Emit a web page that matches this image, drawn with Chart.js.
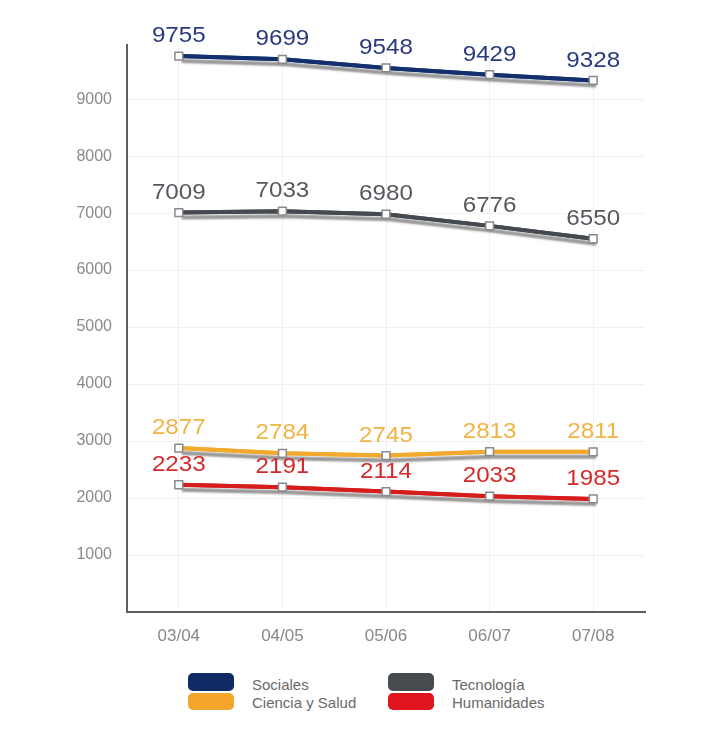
<!DOCTYPE html>
<html>
<head>
<meta charset="utf-8">
<script src="https://cdn.jsdelivr.net/npm/chart.js@4/dist/chart.umd.min.js"></script>
<style>
  body { margin: 0; background: #fff; font-family: "Liberation Sans", Arial, sans-serif; }
  #wrap { position: relative; width: 704px; height: 735px; }
  #myChart { position: absolute; left: 0; top: 0; }
  .lg { position: absolute; font-size: 15px; color: #6a6a6a; line-height: 18px; }
  .box { position: absolute; width: 46px; border-radius: 5px; }
</style>
</head>
<body>
<div id="wrap">
  <canvas id="myChart" width="704" height="660"></canvas>
  <div class="box" style="left:188px; top:673px; height:18px; background:#0f2b66;"></div>
  <div class="box" style="left:188px; top:693px; height:17px; background:#f4a62a;"></div>
  <div class="lg" style="left:252px; top:676px;">Sociales</div>
  <div class="lg" style="left:252px; top:694px;">Ciencia y Salud</div>
  <div class="box" style="left:388px; top:673px; height:18px; background:#464b50;"></div>
  <div class="box" style="left:388px; top:693px; height:17px; background:#e0151e;"></div>
  <div class="lg" style="left:452px; top:676px;">Tecnología</div>
  <div class="lg" style="left:452px; top:694px;">Humanidades</div>
</div>
<script>
// Course years
const years = ['03/04', '04/05', '05/06', '06/07', '07/08'];

// Students per branch
const sociales = [9755, 9699, 9548, 9429, 9328];
const tecnologia = [7009, 7033, 6980, 6776, 6550];
const ciencia = [2877, 2784, 2745, 2813, 2811];
const humanidades = [2233, 2191, 2114, 2033, 1985];

// y axis labels
const yTicks = [1000, 2000, 3000, 4000, 5000, 6000, 7000, 8000, 9000];

const ctx = document.getElementById('myChart').getContext('2d');

function series(label, data, color, labelColor) {
    return {
        label: label,
        data: data,
        borderColor: color,
        labelColor: labelColor,
        borderWidth: 4,
        fill: false,
        tension: 0,
        pointStyle: 'rect',
        pointRadius: 5.5,
        pointBackgroundColor: '#fff',
        pointBorderColor: '#8a8a8a',
        pointBorderWidth: 1.5
    };
}

// draw the line once more with a soft drop shadow underneath the normal one
const shadowPlugin = {
    id: 'shadow',
    beforeDatasetDraw(chart, args) {
        const c = chart.ctx;
        c.save();
        c.shadowColor = 'rgba(80,80,80,0.6)';
        c.shadowOffsetX = 3;
        c.shadowOffsetY = 5;
        c.shadowBlur = 2;
        args.meta.dataset.draw(c, chart.chartArea);
        c.restore();
    }
};

// numbers above each point
const valueLabels = {
    id: 'valueLabels',
    afterDatasetsDraw(chart) {
        const c = chart.ctx;
        c.save();
        c.font = '22px "Liberation Sans", Arial, sans-serif';
        c.textAlign = 'center';
        c.textBaseline = 'bottom';
        chart.data.datasets.forEach((ds, i) => {
            c.fillStyle = ds.labelColor;
            chart.getDatasetMeta(i).data.forEach((pt, j) => {
                // text is a bit wider than regular Arial in the original
                c.save();
                c.translate(pt.x, pt.y - 9);
                c.scale(1.1, 1);
                c.fillText(ds.data[j], 0, 0);
                c.restore();
            });
        });
        c.restore();
    }
};

new Chart(ctx, {
    type: 'line',
    data: {
        labels: years,
        datasets: [
            series('Sociales', sociales, '#13306e', '#2a3a7c'),
            series('Tecnología', tecnologia, '#454a50', '#55595e'),
            series('Ciencia y Salud', ciencia, '#f2aa2e', '#f0b445'),
            series('Humanidades', humanidades, '#d61d1d', '#d32b2b')
        ]
    },
    options: {
        responsive: false,
        animation: false,
        layout: { padding: { top: 45, left: 67, right: 59, bottom: 8 } },
        scales: {
            x: {
                offset: true,
                afterFit: s => { s.height = 40; },
                grid: { color: '#f0f0f0', drawTicks: false },
                border: { display: true, color: '#5e5e5e', width: 2 },
                ticks: { padding: 14, color: '#888', font: { size: 17, family: '"Liberation Sans", Arial' } }
            },
            y: {
                min: 0,
                max: 9950,
                afterFit: s => { s.width = 60; },
                afterBuildTicks: s => { s.ticks = yTicks.map(v => ({ value: v })); },
                grid: { color: '#f0f0f0', drawTicks: false },
                border: { display: true, color: '#5e5e5e', width: 2 },
                ticks: {
                    padding: 15,
                    color: '#8a8a8a',
                    font: { size: 16, family: '"Liberation Sans", Arial' },
                    callback: v => String(v)
                }
            }
        },
        plugins: {
            legend: { display: false },
            tooltip: { enabled: false }
        }
    },
    plugins: [shadowPlugin, valueLabels]
});
</script>
</body>
</html>
